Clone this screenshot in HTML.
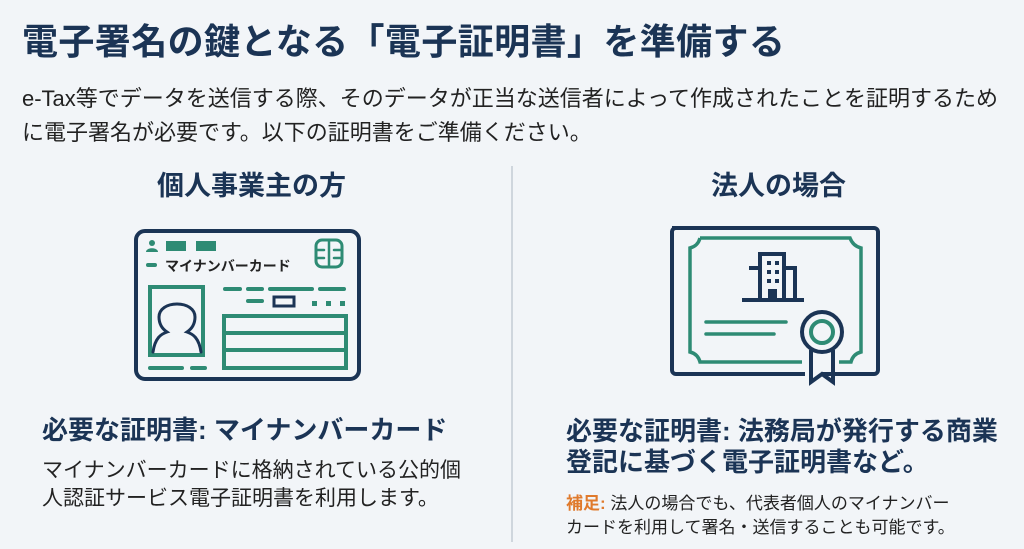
<!DOCTYPE html>
<html><head><meta charset="utf-8"><style>
body{margin:0;width:1024px;height:549px;background:#f2f5f8;position:relative;overflow:hidden;font-family:"Liberation Sans","Noto Sans CJK JP",sans-serif;color:#1a1a1a}
.a{position:absolute;white-space:nowrap;line-height:1}
.navy{color:#1b3455;font-weight:bold}
</style></head><body>
<div class="a navy" style="left:22px;top:24px;font-size:36px;letter-spacing:0.4px">電子署名の鍵となる「電子証明書」を準備する</div>
<div class="a" style="left:22px;top:82px;font-size:22px;line-height:34px;color:#222">e-Tax等でデータを送信する際、そのデータが正当な送信者によって作成されたことを証明するため<br>に電子署名が必要です。以下の証明書をご準備ください。</div>
<div style="position:absolute;left:511px;top:166px;width:2px;height:376px;background:#cfd6dd"></div>
<div class="a navy" style="left:157px;top:173px;font-size:27px">個人事業主の方</div>
<div class="a navy" style="left:711px;top:173px;font-size:27px">法人の場合</div>

<svg style="position:absolute;left:0;top:0" width="1024" height="549">
<g fill="none" stroke-linecap="round">
<rect x="136" y="231" width="223" height="148" rx="9" stroke="#1b3455" stroke-width="4"/>
<g stroke="#2e8b74" stroke-width="4">
<rect x="150" y="287" width="53" height="68"/>
<rect x="224" y="316" width="122" height="52"/>
<line x1="224" y1="333" x2="346" y2="333"/><line x1="224" y1="350" x2="346" y2="350"/>
<line x1="225" y1="289" x2="240" y2="289"/><line x1="248" y1="289" x2="262" y2="289"/><line x1="270" y1="289" x2="312" y2="289"/><line x1="320" y1="289" x2="344" y2="289"/>
<line x1="248" y1="301" x2="262" y2="301"/>
<line x1="150" y1="368" x2="182" y2="368"/><line x1="192" y1="368" x2="205" y2="368"/>
<line x1="148" y1="265" x2="155" y2="265"/>
<rect x="316" y="240" width="26" height="27" rx="6" stroke-width="3"/>
<path d="M316 250h8M316 258h8M334 250h8M334 258h8M329 240v27" stroke-width="2.5"/>
</g>
<rect x="274" y="297" width="20" height="9" stroke="#1b3455" stroke-width="3"/>
<path d="M153 352c2-14 8-18 14-20c-6-4-8-10-8-15c0-8 8-13 18-13s18 5 18 13c0 5-2 11-8 15c6 2 12 6 14 20" stroke="#1b3455" stroke-width="3"/>
</g>
<g fill="#2e8b74"><rect x="166" y="241" width="20" height="10"/><rect x="196" y="241" width="20" height="10"/>
<rect x="312" y="301" width="5" height="5"/><rect x="326" y="301" width="5" height="5"/><rect x="340" y="301" width="5" height="5"/></g>
<circle cx="152" cy="243" r="3" fill="#2e8b74"/><path d="M146 252c0-5 12-5 12 0z" fill="#2e8b74"/>
<text x="165" y="271" font-size="14" font-weight="bold" fill="#222" font-family="Liberation Sans,Noto Sans CJK JP,sans-serif">マイナンバーカード</text>

<g fill="none">
<path d="M672 228h202a4 4 0 0 1 4 4v138a4 4 0 0 1-4 4h-52M805 374h-129a4 4 0 0 1-4-4v-138a4 4 0 0 1 4-4" stroke="#1b3455" stroke-width="4"/>
<path d="M700 238h150q3 8 11 10v104q-8 2-10 10h-12M802 362h-102q-2-8-10-10v-104q8-2 10-10" stroke="#2e8b74" stroke-width="3.5"/>
<line x1="706" y1="322" x2="786" y2="322" stroke="#2e8b74" stroke-width="3.5" stroke-linecap="round"/>
<line x1="706" y1="334" x2="774" y2="334" stroke="#2e8b74" stroke-width="3.5" stroke-linecap="round"/>
<circle cx="822" cy="332" r="20" stroke="#1b3455" stroke-width="4"/>
<circle cx="822" cy="332" r="11" stroke="#2e8b74" stroke-width="4"/>
<path d="M811 350v32l11-8 11 8v-32" stroke="#1b3455" stroke-width="4"/>
<path d="M760 254h24v46h-24zM749 268h11v32M784 268h11v32M742 300h62" stroke="#1b3455" stroke-width="4"/>
</g>
<g fill="#1b3455"><rect x="767" y="261" width="4" height="4"/><rect x="775" y="261" width="4" height="4"/><rect x="767" y="270" width="4" height="4"/><rect x="775" y="270" width="4" height="4"/><rect x="767" y="279" width="4" height="4"/><rect x="775" y="279" width="4" height="4"/><rect x="768" y="289" width="9" height="11"/></g>
</svg>

<div class="a navy" style="left:42px;top:417px;font-size:26px">必要な証明書: マイナンバーカード</div>
<div class="a" style="left:42px;top:457px;font-size:21px;line-height:28px;color:#222">マイナンバーカードに格納されている公的個<br>人認証サービス電子証明書を利用します。</div>
<div class="a navy" style="left:566px;top:416px;font-size:26px;line-height:31px">必要な証明書: 法務局が発行する商業<br>登記に基づく電子証明書など。</div>
<div class="a" style="left:566px;top:492px;font-size:17px;line-height:24px;color:#222"><span style="color:#e07a2c;font-weight:bold">補足:</span> 法人の場合でも、代表者個人のマイナンバー<br>カードを利用して署名・送信することも可能です。</div>
</body></html>
